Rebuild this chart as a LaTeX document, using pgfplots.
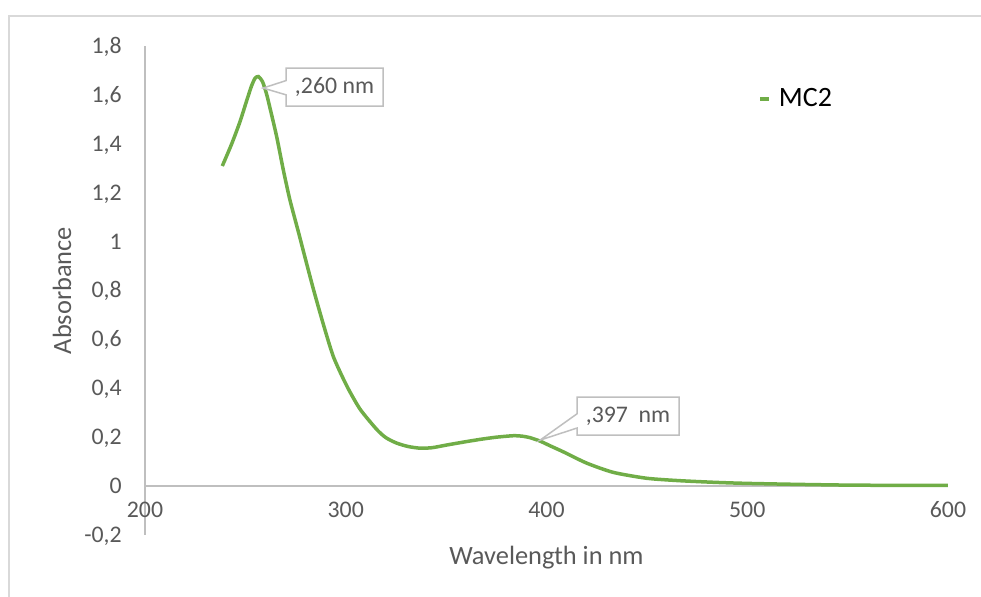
\documentclass[border=0pt]{standalone}
\usepackage{pgfplots}
\pgfplotsset{compat=1.18}
\usepackage{fontspec}
\setmainfont{Carlito}
\usetikzlibrary{shapes.callouts}
\definecolor{curve}{HTML}{70AD47}
\definecolor{txt}{HTML}{595959}
\definecolor{axln}{HTML}{BFBFBF}
\definecolor{brd}{HTML}{D9D9D9}
\begin{document}
\begin{tikzpicture}
\useasboundingbox (0,0) rectangle (490.5pt,298.5pt);
\draw[brd, line width=0.75pt] (4.5pt,0pt) -- (4.5pt,290.5pt) -- (490.5pt,290.5pt);
\begin{axis}[
  at={(72.5pt,31pt)}, anchor=south west,
  width=401.5pt, height=244.5pt, scale only axis,
  xmin=200, xmax=600, ymin=-0.2, ymax=1.8,
  axis x line*=middle, axis y line*=left,
  hide obscured x ticks=false, hide obscured y ticks=false,
  axis line style={axln, line width=0.75pt},
  major tick length=0pt,
  xtick={200,300,400,500,600},
  xticklabels={200,300,400,500,600},
  ytick={-0.2,0,0.2,0.4,0.6,0.8,1,1.2,1.4,1.6,1.8},
  yticklabels={{-0,2},0,{0,2},{0,4},{0,6},{0,8},1,{1,2},{1,4},{1,6},{1,8}},
  tick label style={font=\fontsize{11.9}{14}\selectfont, text=txt, inner sep=0pt},
  yticklabel style={anchor=base east, xshift=-11.5pt, yshift=-3.75pt},
  xticklabel style={anchor=base, yshift=-15.75pt},
  xlabel={Wavelength in nm},
  ylabel={Absorbance},
  label style={font=\fontsize{13.2}{15}\selectfont, text=txt},
  xlabel style={at={(axis description cs:0.5,-0.0613)}, anchor=base, inner sep=0pt},
  ylabel style={at={(axis description cs:-0.1034,0.5)}, anchor=center, inner sep=0pt},
  legend style={draw=none, fill=none, at={(axis cs:505.4,1.583)}, anchor=west,
    font=\fontsize{14}{16}\selectfont, text=black, inner sep=0pt,
    nodes={inner sep=0pt}},
  legend image code/.code={\draw[#1, line width=1.75pt] (0pt,0pt) -- (4.5pt,0pt);},
  legend cell align=left,
  clip=false,
]
\addplot[curve, line width=1.75pt, smooth, tension=0.4] coordinates {
(238.5,1.309) (243.2,1.400) (247.3,1.490) (250.6,1.575) (253,1.635)
(254.8,1.668) (256.5,1.675) (258.5,1.655) (260.5,1.605) (262.3,1.545)
(265.6,1.429) (268.9,1.293) (272.2,1.170) (276.4,1.040) (279.4,0.945)
(283.9,0.805) (288.9,0.660) (293.9,0.528) (300.5,0.410) (307.1,0.315)
(315.4,0.232) (320,0.198) (325.3,0.176) (331,0.162) (337,0.155)
(343,0.157) (350.3,0.168) (358,0.179) (366.9,0.191) (375,0.200)
(383.5,0.206) (388,0.204) (391.8,0.198) (396.8,0.184) (402,0.164)
(408.4,0.140) (420,0.094) (433.3,0.056) (449.9,0.032) (466.5,0.022)
(484.8,0.015) (500,0.011) (525,0.007) (550,0.004) (575,0.003) (600,0.003)
};
\addlegendentry{\hspace{4pt}MC2}
\node[rectangle callout, draw=axln, line width=0.75pt, fill=white, text=txt,
  font=\fontsize{11.9}{14}\selectfont, minimum width=48.5pt, minimum height=19pt, inner sep=0pt,
  callout absolute pointer={(axis cs:258.8,1.628)}] at (axis cs:294.4,1.632) {,260 nm};
\node[rectangle callout, draw=axln, line width=0.75pt, fill=white, text=txt,
  font=\fontsize{11.9}{14}\selectfont, minimum width=51pt, minimum height=19pt, inner sep=0pt,
  callout absolute pointer={(axis cs:396.8,0.188)}] at (axis cs:440.6,0.286) {,397\ \ nm};
\end{axis}
\end{tikzpicture}
\end{document}
